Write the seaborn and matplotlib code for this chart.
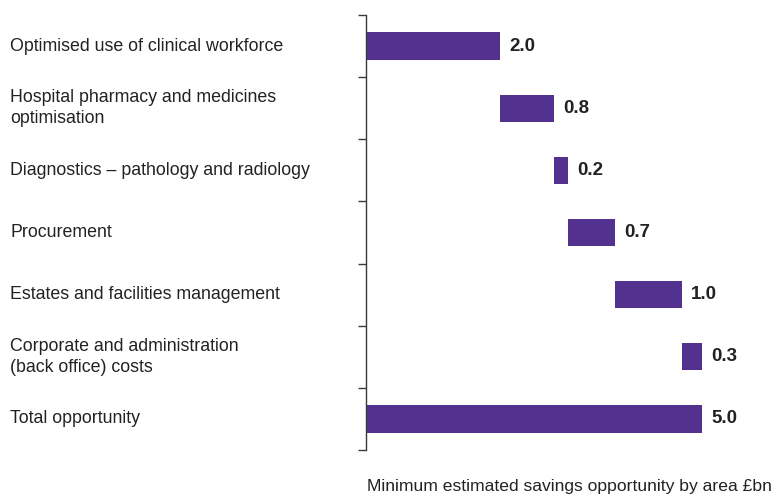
import matplotlib
matplotlib.use("Agg")
import matplotlib.pyplot as plt
import matplotlib.transforms as mtransforms
import seaborn as sns
import pandas as pd
import numpy as np

categories = [
    "Optimised use of clinical workforce",
    "Hospital pharmacy and medicines\noptimisation",
    "Diagnostics \u2013 pathology and radiology",
    "Procurement",
    "Estates and facilities management",
    "Corporate and administration\n(back office) costs",
    "Total opportunity",
]
values = [2.0, 0.8, 0.2, 0.7, 1.0, 0.3, 5.0]
value_labels = ["2.0", "0.8", "0.2", "0.7", "1.0", "0.3", "5.0"]
xlabel = "Minimum estimated savings opportunity by area \u00a3bn"

# waterfall: steps start where the previous ended, total starts at 0
starts = list(np.concatenate([[0], np.cumsum(values[:-2])])) + [0.0]
ends = [s + v for s, v in zip(starts, values)]

df = pd.DataFrame({"cat": categories, "start": starts, "end": ends, "value": values})

sns.set_style("white")
plt.rcParams["font.family"] = ["Liberation Sans Narrow", "Liberation Sans", "DejaVu Sans"]

W, H = 784, 497
fig = plt.figure(figsize=(W / 100, H / 100), dpi=100)
ax_left = 366 / W
ax_top = 15 / H
ax_bot = 450 / H
ax = fig.add_axes([ax_left, 1 - ax_bot, 1 - ax_left, ax_bot - ax_top])

purple = "#52318F"
sns.barplot(data=df, x="end", y="cat", color=purple, width=0.44, ax=ax,
            saturation=1, orient="h", linewidth=0)
sns.barplot(data=df, x="start", y="cat", color="white", width=0.46, ax=ax,
            saturation=1, orient="h", linewidth=0)

px_per_unit = 67.2
ax.set_xlim(0, (W - 366) / px_per_unit)
ax.set_ylim(len(categories) - 0.5, -0.5)

for sp in ["top", "right", "bottom"]:
    ax.spines[sp].set_visible(False)
ax.spines["left"].set_color("#3a3a3a")
ax.spines["left"].set_linewidth(1.0)
ax.spines["left"].set_zorder(5)
ax.set_xticks([])
ax.set_yticks(np.arange(-0.5, len(categories) + 0.5, 1.0))
ax.set_yticklabels([])
ax.tick_params(axis="y", direction="out", length=6, width=1.0, color="#3a3a3a", left=True)
ax.set_xlabel("")
ax.set_ylabel("")

trans = mtransforms.blended_transform_factory(fig.transFigure, ax.transData)
for i, cat in enumerate(categories):
    ax.text(10 / W, i, cat, transform=trans, ha="left", va="center",
            fontsize=12.8, color="#222222", linespacing=1.3, clip_on=False)

for i, (e, lab) in enumerate(zip(ends, value_labels)):
    ax.text(e + 0.14, i, lab, ha="left", va="center", fontsize=13.5,
            fontweight="bold", color="#222222")

fig.text(367 / W, 1 - 487 / H, xlabel, ha="left", va="center", fontsize=12.6,
         color="#222222")

fig.savefig("out.png", dpi=100)
